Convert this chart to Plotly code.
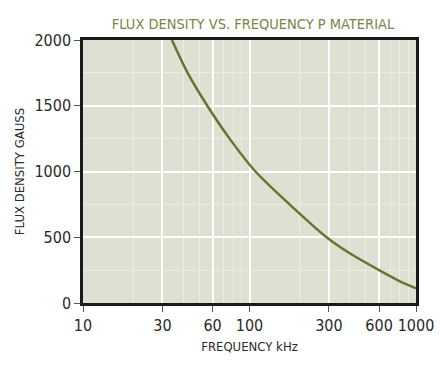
import plotly.graph_objects as go

freq_khz = [34.2, 42.5, 55.8, 75.9, 108.6, 174, 290, 400, 600, 800, 1000]
flux_gauss = [2000, 1750, 1500, 1250, 1000, 750, 500, 378, 250, 165, 112]

x_tickvals = [10, 30, 60, 100, 300, 600, 1000]
x_ticktext = ["10", "30", "60", "100", "300", "600", "1000"]
x_minor = [20, 40, 50, 70, 80, 90, 200, 400, 500, 700, 800, 900]
y_tickvals = [0, 500, 1000, 1500, 2000]
y_minor = [250, 750, 1250, 1750]

FONT = "DejaVu Sans"
TXT = "#2a2a2a"

fig = go.Figure()
fig.add_trace(go.Scatter(
    x=freq_khz, y=flux_gauss, mode="lines",
    line=dict(color="#6b7332", width=2.5, shape="spline", smoothing=0.8),
    hoverinfo="skip", showlegend=False,
))

fig.update_layout(
    width=440, height=365,
    margin=dict(l=83, r=24, t=40, b=62, autoexpand=False),
    paper_bgcolor="white",
    plot_bgcolor="#dfdfd2",
    title=dict(text="FLUX DENSITY VS. FREQUENCY P MATERIAL",
               font=dict(family=FONT, size=14.5, color="#7a8446"),
               x=0.575, xanchor="center", y=0.935, yanchor="middle"),
    font=dict(family=FONT, color=TXT),
)

fig.update_xaxes(
    type="log", range=[1, 3], automargin=False, tickangle=0,
    tickvals=x_tickvals, ticktext=x_ticktext,
    tickfont=dict(family=FONT, size=16, color=TXT),
    ticks="outside", ticklen=6, tickcolor="#555555", tickwidth=1,
    showgrid=True, gridcolor="#ffffff", gridwidth=1.5,
    minor=dict(tickvals=x_minor, showgrid=True, gridcolor="#ececE4", gridwidth=1, ticks=""),
    showline=True, linecolor="#1a1a1a", linewidth=2.5, mirror=True,
    title=dict(text="FREQUENCY kHz", font=dict(family=FONT, size=13, color=TXT), standoff=8),
    zeroline=False,
)
fig.update_yaxes(
    range=[0, 2000], automargin=False,
    tickvals=y_tickvals,
    tickfont=dict(family=FONT, size=16, color=TXT),
    ticks="outside", ticklen=6, tickcolor="#555555", tickwidth=1,
    showgrid=True, gridcolor="#ffffff", gridwidth=1.5,
    minor=dict(tickvals=y_minor, showgrid=True, gridcolor="#ececE4", gridwidth=1, ticks=""),
    showline=True, linecolor="#1a1a1a", linewidth=2.5, mirror=True,
    title=dict(text="FLUX DENSITY GAUSS", font=dict(family=FONT, size=13, color=TXT), standoff=3),
    zeroline=False,
)

post = """
var s = document.createElement('style');
s.textContent = 'html, body { margin: 0 !important; padding: 0 !important; } svg text { font-stretch: condensed !important; }';
document.head.appendChild(s);
"""
fig.write_html("out.html", post_script=post, config={"displayModeBar": False})
